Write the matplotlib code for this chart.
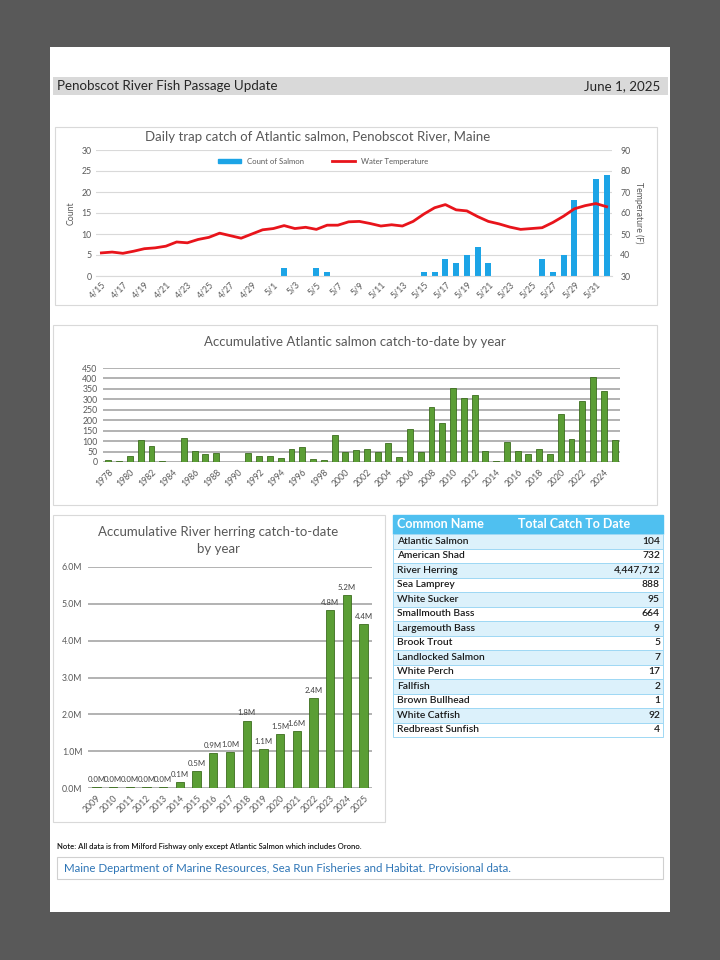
import matplotlib
matplotlib.use("Agg")
import matplotlib.pyplot as plt
from matplotlib.patches import Rectangle
from matplotlib.lines import Line2D

plt.rcParams['font.family'] = ['Lato', 'DejaVu Sans']

# --- Data ---
trap_dates = ['4/15', '4/16', '4/17', '4/18', '4/19', '4/20', '4/21', '4/22',
              '4/23', '4/24', '4/25', '4/26', '4/27', '4/28', '4/29', '4/30',
              '5/1', '5/2', '5/3', '5/4', '5/5', '5/6', '5/7', '5/8',
              '5/9', '5/10', '5/11', '5/12', '5/13', '5/14', '5/15', '5/16',
              '5/17', '5/18', '5/19', '5/20', '5/21', '5/22', '5/23', '5/24',
              '5/25', '5/26', '5/27', '5/28', '5/29', '5/30', '5/31', '6/1']
salmon_count = [0, 0, 0, 0, 0, 0, 0, 0, 0, 0, 0, 0, 0, 0, 0, 0,
                0, 2, 0, 0, 2, 1, 0, 0, 0, 0, 0, 0, 0, 0, 1, 1,
                4, 3, 5, 7, 3, 0, 0, 0, 0, 4, 1, 5, 18, 0, 23, 24]
water_temp = [41.0, 41.4, 40.8, 41.8, 43.0, 43.4, 44.2, 46.2,
              45.8, 47.4, 48.4, 50.4, 49.2, 48.0, 50.0, 52.0,
              52.6, 54.0, 52.6, 53.2, 52.2, 54.2, 54.2, 55.8,
              56.0, 55.0, 53.8, 54.4, 53.8, 56.0, 59.5, 62.5,
              64.0, 61.5, 61.0, 58.3, 56.0, 54.8, 53.3, 52.2,
              52.6, 53.0, 55.5, 58.5, 62.0, 63.5, 64.5, 63.0]

salmon_years = list(range(1978, 2026))
salmon_totals = [8, 6, 31, 103, 75, 6, 0, 117, 55, 39, 44, 0, 0, 42, 28, 31,
                 20, 64, 72, 16, 11, 127, 48, 56, 63, 50, 92, 23, 156, 47, 262, 186,
                 352, 305, 319, 53, 6, 97, 52, 36, 61, 39, 230, 111, 291, 408, 341, 104]

herring_years = list(range(2009, 2026))
herring_totals = [0.02, 0.02, 0.02, 0.02, 0.03, 0.15, 0.47, 0.95, 0.97,
                  1.83, 1.05, 1.47, 1.55, 2.43, 4.84, 5.24, 4.447]

species = ['Atlantic Salmon', 'American Shad', 'River Herring', 'Sea Lamprey',
           'White Sucker', 'Smallmouth Bass', 'Largemouth Bass', 'Brook Trout',
           'Landlocked Salmon', 'White Perch', 'Fallfish', 'Brown Bullhead',
           'White Catfish', 'Redbreast Sunfish']
catch_to_date = [104, 732, 4447712, 888, 95, 664, 9, 5, 7, 17, 2, 1, 92, 4]

W, H = 720, 960
GRAY_TXT = '#595959'
GREEN = '#5b9e35'
GREEN_EDGE = '#3c6e1f'
BLUE = '#1ca4e6'
RED = '#e8141b'


def px_axes(fig, x0, y0, x1, y1, **kw):
    """Add axes from pixel box (top-left origin)."""
    return fig.add_axes([x0 / W, 1 - y1 / H, (x1 - x0) / W, (y1 - y0) / H], **kw)


fig = plt.figure(figsize=(7.2, 9.6), dpi=100)
fig.patch.set_facecolor('#595959')

# background layer in pixel coordinates
bg = fig.add_axes([0, 0, 1, 1], zorder=0)
bg.set_xlim(0, W)
bg.set_ylim(H, 0)
bg.axis('off')

bg.add_patch(Rectangle((50, 47), 620, 865, facecolor='white', edgecolor='none'))
bg.add_patch(Rectangle((53, 77), 615, 18, facecolor='#d9d9d9', edgecolor='none'))
bg.text(57, 86.5, 'Penobscot River Fish Passage Update', fontsize=9.6,
        color='#262626', va='center', ha='left')
bg.text(660, 86.5, 'June 1, 2025', fontsize=9.6, color='#262626', va='center', ha='right')

for (x0, y0, x1, y1) in [(55, 127, 657, 305), (53, 325, 657, 505), (53, 515, 385, 822)]:
    bg.add_patch(Rectangle((x0, y0), x1 - x0, y1 - y0, facecolor='white',
                           edgecolor='#d9d9d9', lw=0.8))

# --- Top chart: daily trap catch ---
bg.text(318, 137, 'Daily trap catch of Atlantic salmon, Penobscot River, Maine',
        fontsize=9.5, color=GRAY_TXT, ha='center', va='center')
ax1 = px_axes(fig, 96, 150, 612, 276, zorder=1)
ax1.set_facecolor('none')
x = list(range(len(trap_dates)))
ax1.bar(x, salmon_count, width=0.55, color=BLUE, zorder=2)
ax1.set_xlim(-0.5, len(trap_dates) - 0.5)
ax1.set_ylim(0, 30)
ax1.set_yticks(range(0, 31, 5))
ax1.grid(axis='y', color='#d9d9d9', lw=0.8, zorder=0)
ax1.set_axisbelow(True)
ax1.set_xticks(x[::2])
ax1.set_xticklabels(trap_dates[::2], rotation=45, ha='right', rotation_mode='anchor')
ax1.tick_params(axis='both', length=0, labelsize=6.3, colors=GRAY_TXT, pad=3)
ax1.set_ylabel('Count', fontsize=6.3, color=GRAY_TXT, labelpad=4)
for s in ax1.spines.values():
    s.set_visible(False)
ax1.spines['bottom'].set_visible(True)
ax1.spines['bottom'].set_color('#d9d9d9')

ax1t = ax1.twinx()
ax1t.plot(x, water_temp, color=RED, lw=2, solid_joinstyle='round', zorder=3)
ax1t.set_ylim(30, 90)
ax1t.set_yticks(range(30, 91, 10))
ax1t.tick_params(axis='y', length=0, labelsize=6.3, colors=GRAY_TXT, pad=6)
ax1t.set_ylabel('Temperature (F)', fontsize=6.3, color=GRAY_TXT, rotation=270, labelpad=9)
for s in ax1t.spines.values():
    s.set_visible(False)

handles = [Rectangle((0, 0), 1, 1, color=BLUE), Line2D([0], [0], color=RED, lw=2)]
ax1.legend(handles, ['Count of Salmon', 'Water Temperature'], loc='center',
           bbox_to_anchor=(0.44, 0.91), ncol=2, frameon=False, fontsize=5.6,
           labelcolor=GRAY_TXT, handlelength=3, handleheight=0.5, columnspacing=3.5)

# --- Middle chart: accumulative Atlantic salmon ---
bg.text(355, 342, 'Accumulative Atlantic salmon catch-to-date by year',
        fontsize=9.5, color=GRAY_TXT, ha='center', va='center')
ax2 = px_axes(fig, 103, 368, 620, 462, zorder=1)
ax2.set_facecolor('none')
xs = list(range(len(salmon_years)))
ax2.bar(xs, salmon_totals, width=0.55, color=GREEN, edgecolor=GREEN_EDGE, lw=0.6, zorder=2)
ax2.set_xlim(-0.5, len(salmon_years) - 0.5)
ax2.set_ylim(0, 450)
ax2.set_yticks(range(0, 451, 50))
ax2.grid(axis='y', color='#a6a6a6', lw=1.2, zorder=0)
ax2.set_axisbelow(True)
ax2.set_xticks(xs[::2])
ax2.set_xticklabels([str(y) for y in salmon_years[::2]], rotation=45, ha='right',
                    rotation_mode='anchor')
ax2.tick_params(axis='both', length=0, labelsize=6.3, colors=GRAY_TXT, pad=4)
for s in ax2.spines.values():
    s.set_visible(False)

# --- Bottom-left chart: river herring ---
bg.text(218, 532, 'Accumulative River herring catch-to-date', fontsize=9.5,
        color=GRAY_TXT, ha='center', va='center')
bg.text(218, 549, 'by year', fontsize=9.5, color=GRAY_TXT, ha='center', va='center')
ax3 = px_axes(fig, 88, 567, 372, 788, zorder=1)
ax3.set_facecolor('none')
xh = list(range(len(herring_years)))
bars = ax3.bar(xh, herring_totals, width=0.5, color=GREEN, edgecolor=GREEN_EDGE, lw=0.6, zorder=2)
ax3.set_xlim(-0.5, len(herring_years) - 0.5)
ax3.set_ylim(0, 6.0)
ax3.set_yticks(range(0, 7))
ax3.set_yticklabels([f'{v:.1f}M' for v in range(0, 7)])
ax3.grid(axis='y', color='#a6a6a6', lw=1.2, zorder=0)
ax3.set_axisbelow(True)
ax3.set_xticks(xh)
ax3.set_xticklabels([str(y) for y in herring_years], rotation=45, ha='right',
                    rotation_mode='anchor')
ax3.tick_params(axis='both', length=0, labelsize=6.3, colors=GRAY_TXT, pad=4)
for s in ax3.spines.values():
    s.set_visible(False)
ax3.bar_label(bars, labels=[f'{v:.1f}M' for v in herring_totals], fontsize=5.6,
              color='#404040', padding=3)

# --- Table ---
tx0, tx1 = 393, 663
bg.add_patch(Rectangle((tx0, 515), tx1 - tx0, 19, facecolor='#4fc0f0', edgecolor='#4fc0f0'))
bg.text(397, 524.5, 'Common Name', fontsize=9, fontweight='bold', color='white', va='center')
bg.text(518, 524.5, 'Total Catch To Date', fontsize=9, fontweight='bold', color='white', va='center')
row_h = 14.5
for i, (name, val) in enumerate(zip(species, catch_to_date)):
    y0 = 534 + i * row_h
    fc = '#dcf1fb' if i % 2 == 0 else 'white'
    bg.add_patch(Rectangle((tx0, y0), tx1 - tx0, row_h, facecolor=fc,
                           edgecolor='#9fd8f4', lw=0.7))
    bg.text(397, y0 + row_h / 2, name, fontsize=7.4, color='#1a1a1a', va='center',
            fontweight='semibold')
    bg.text(660, y0 + row_h / 2, f'{val:,}', fontsize=7.4, color='#1a1a1a', va='center',
            ha='right', fontweight='semibold')

# --- Footer ---
bg.text(57, 846, 'Note: All data is from Milford Fishway only except Atlantic Salmon which includes Orono.',
        fontsize=5.6, color='#1a1a1a', va='center', fontweight='semibold')
bg.add_patch(Rectangle((57, 857), 606, 22, facecolor='white', edgecolor='#d0d0d0', lw=0.8))
bg.text(64, 868, 'Maine Department of Marine Resources, Sea Run Fisheries and Habitat. Provisional data.',
        fontsize=8.3, color='#2e75b6', va='center')

fig.savefig('out.png', dpi=100, facecolor=fig.get_facecolor())
